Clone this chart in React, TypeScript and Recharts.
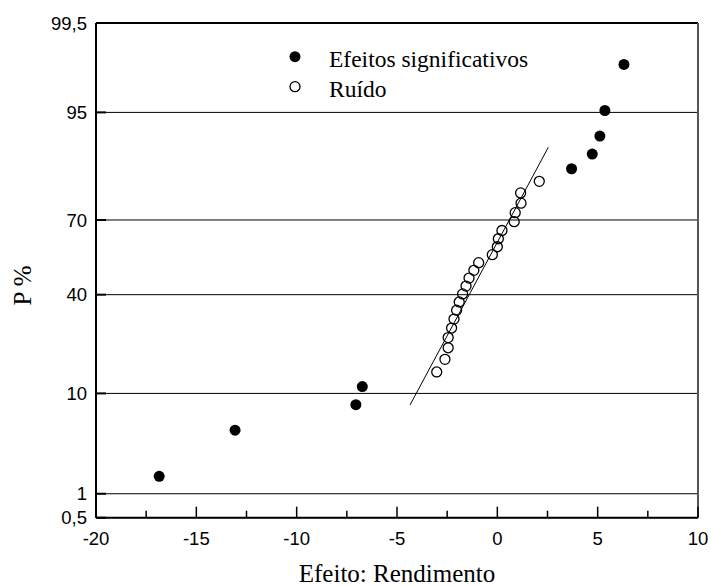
import React from "react";
import {
  ScatterChart,
  Scatter,
  XAxis,
  YAxis,
  CartesianGrid,
  ReferenceLine,
  Legend,
} from "recharts";

// significant effects (filled dots)
const sigX = [-16.85, -13.07, -7.05, -6.73, 3.7, 4.73, 5.11, 5.36, 6.31];
const sigP = [1.6, 4.8, 8.1, 11.3, 85.5, 88.7, 91.9, 95.2, 98.4];

// noise (open circles)
const noiseX = [
  -3.02, -2.61, -2.45, -2.45, -2.28, -2.16, -2.03, -1.9, -1.73, -1.56, -1.41,
  -1.17, -0.93, -0.25, 0.0, 0.05, 0.23, 0.84, 0.89, 1.18, 1.16, 2.09,
];
const noiseP = [
  14.5, 17.7, 21.0, 24.2, 27.4, 30.6, 33.9, 37.1, 40.3, 43.5, 46.8, 50.0, 53.2,
  56.5, 59.7, 62.9, 66.1, 69.4, 72.6, 75.8, 79.0, 82.3,
];

// fitted line through the noise
const fitX = [-4.35, 2.54];
const fitP = [8.05, 90.0];

const xTicks = [-20, -17.5, -15, -12.5, -10, -7.5, -5, -2.5, 0, 2.5, 5, 7.5, 10];
const yTickP = [0.5, 1, 10, 40, 70, 95, 99.5];

// normal probability axis: P% -> z (Acklam's inverse normal)
function probit(pct: number): number {
  const p = pct / 100;
  const a = [-39.69683028665376, 220.9460984245205, -275.9285104469687, 138.357751867269, -30.66479806614716, 2.506628277459239];
  const b = [-54.47609879822406, 161.5858368580409, -155.6989798598866, 66.80131188771972, -13.28068155288572];
  const c = [-0.007784894002430293, -0.3223964580411365, -2.400758277161838, -2.549732539343734, 4.374664141464968, 2.938163982698783];
  const d = [0.007784695709041462, 0.3224671290700398, 2.445134137142996, 3.754408661907416];
  const lo = 0.02425;
  if (p < lo) {
    const q = Math.sqrt(-2 * Math.log(p));
    return (((((c[0] * q + c[1]) * q + c[2]) * q + c[3]) * q + c[4]) * q + c[5]) /
      ((((d[0] * q + d[1]) * q + d[2]) * q + d[3]) * q + 1);
  }
  if (p > 1 - lo) {
    const q = Math.sqrt(-2 * Math.log(1 - p));
    return -(((((c[0] * q + c[1]) * q + c[2]) * q + c[3]) * q + c[4]) * q + c[5]) /
      ((((d[0] * q + d[1]) * q + d[2]) * q + d[3]) * q + 1);
  }
  const q = p - 0.5;
  const r = q * q;
  return ((((((a[0] * r + a[1]) * r + a[2]) * r + a[3]) * r + a[4]) * r + a[5]) * q) /
    (((((b[0] * r + b[1]) * r + b[2]) * r + b[3]) * r + b[4]) * r + 1);
}

const yTicks = yTickP.map(probit);
const yDomain: [number, number] = [yTicks[0], yTicks[yTicks.length - 1]];

const sigData = sigX.map((x, i) => ({ x, y: probit(sigP[i]) }));
const noiseData = noiseX.map((x, i) => ({ x, y: probit(noiseP[i]) }));
const fitData = fitX.map((x, i) => ({ x, y: probit(fitP[i]) }));

const SANS = "'Liberation Sans', Arial, sans-serif";
const SERIF = "'Liberation Serif', 'Times New Roman', serif";

const XTick = (props: any) => {
  const { x, y, payload } = props;
  const v = payload.value;
  const major = v % 5 === 0;
  return (
    <g>
      <line x1={x} x2={x} y1={y} y2={y - (major ? 11 : 7)} stroke="#000" strokeWidth={1.5} />
      {major && (
        <text x={x} y={y + 27.3} textAnchor="middle" fontFamily={SANS} fontSize={18.5} fill="#000">
          {String(v)}
        </text>
      )}
    </g>
  );
};

const YTick = (props: any) => {
  const { x, y, payload } = props;
  let idx = 0;
  yTicks.forEach((t, i) => {
    if (Math.abs(t - payload.value) < Math.abs(yTicks[idx] - payload.value)) idx = i;
  });
  const label = String(yTickP[idx]).replace(".", ",");
  return (
    <g>
      <line x1={x} x2={x + 10} y1={y} y2={y} stroke="#000" strokeWidth={2} />
      <text x={x - 9} y={y} dy="0.36em" textAnchor="end" fontFamily={SANS} fontSize={18.5} fill="#000">
        {label}
      </text>
    </g>
  );
};

const RightTick = (props: any) => {
  const { x, y } = props;
  return <line x1={x} x2={x + 3} y1={y} y2={y} stroke="#000" strokeWidth={1.5} />;
};

const LegendBox = () => (
  <svg width={260} height={70}>
    <circle cx={15} cy={21.7} r={5.5} fill="#000" />
    <text x={49} y={31.7} fontFamily={SERIF} fontSize={23.5} fill="#000">
      Efeitos significativos
    </text>
    <circle cx={15} cy={51.7} r={5} fill="none" stroke="#000" strokeWidth={1.3} />
    <text x={49} y={61.7} fontFamily={SERIF} fontSize={23.5} fill="#000">
      Ruído
    </text>
  </svg>
);

const YLabel = (props: any) => {
  const vb = props.viewBox || { x: 0, y: 23, width: 96, height: 494.7 };
  const lx = vb.x + 31.5;
  const ly = vb.y + vb.height / 2 + 15;
  return (
    <text x={lx} y={ly} transform={`rotate(-90, ${lx}, ${ly})`} textAnchor="middle" fontFamily={SERIF} fontSize={25} fill="#000">
      P %
    </text>
  );
};

export default function App() {
  return (
    <div style={{ position: "absolute", left: 0, top: 0, background: "#fff" }}>
      <ScatterChart width={711} height={586} margin={{ top: 23, right: 0, bottom: 0, left: 0 }}>
        <CartesianGrid horizontal vertical={false} stroke="#000" strokeWidth={1} />
        <XAxis
          type="number"
          dataKey="x"
          domain={[-20, 10]}
          ticks={xTicks}
          interval={0}
          height={68.3}
          tickSize={0}
          tickMargin={0}
          tickLine={false}
          tick={XTick}
          axisLine={{ stroke: "#000", strokeWidth: 2 }}
          label={{
            value: "Efeito: Rendimento",
            position: "insideBottom",
            offset: 4.3,
            style: { fontFamily: SERIF, fontSize: 25, fill: "#000" },
          }}
        />
        <YAxis
          type="number"
          dataKey="y"
          domain={yDomain}
          ticks={yTicks}
          interval={0}
          width={96}
          tickSize={0}
          tickMargin={0}
          tickLine={false}
          tick={YTick}
          axisLine={{ stroke: "#000", strokeWidth: 2 }}
          label={{ content: YLabel }}
        />
        <YAxis
          yAxisId="r"
          orientation="right"
          type="number"
          domain={yDomain}
          ticks={yTicks}
          interval={0}
          width={13}
          tickSize={0}
          tickMargin={0}
          tickLine={false}
          tick={RightTick}
          axisLine={{ stroke: "#555", strokeWidth: 2 }}
        />
        <ReferenceLine y={yDomain[1]} stroke="#000" strokeWidth={2} />
        <Scatter
          data={fitData}
          line={{ stroke: "#000", strokeWidth: 1 }}
          shape={() => <g />}
          isAnimationActive={false}
        />
        <Scatter
          data={noiseData}
          shape={(p: any) => <circle cx={p.cx} cy={p.cy} r={5} fill="none" stroke="#000" strokeWidth={1.3} />}
          isAnimationActive={false}
        />
        <Scatter
          data={sigData}
          shape={(p: any) => <circle cx={p.cx} cy={p.cy} r={5.5} fill="#000" />}
          isAnimationActive={false}
        />
        <Legend
          layout="vertical"
          align="center"
          verticalAlign="middle"
          content={LegendBox}
          wrapperStyle={{ position: "absolute", left: 280, top: 35, width: 260, height: 70 }}
        />
      </ScatterChart>
    </div>
  );
}
